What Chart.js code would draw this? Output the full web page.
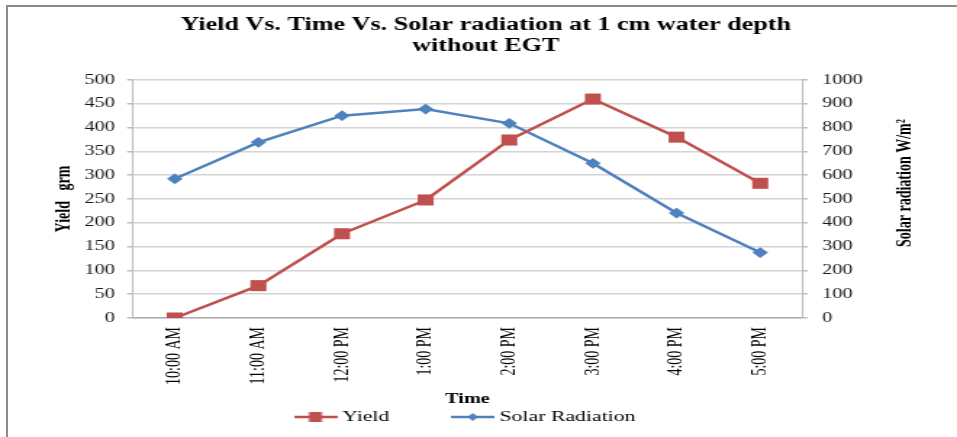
<!DOCTYPE html>
<html><head><meta charset="utf-8">
<script src="https://cdn.jsdelivr.net/npm/chart.js@4/dist/chart.umd.min.js"></script>
<style>
html,body{margin:0;padding:0;background:#fff;}
#wrap{position:relative;width:957px;height:437px;overflow:hidden;}
#stretch{position:absolute;left:0;top:0;width:660px;height:437px;transform:scaleX(1.45);transform-origin:0 0;}
#frame{position:absolute;left:6px;top:5px;width:1000px;height:500px;border-left:2px solid #8c8c8c;border-top:2px solid #8c8c8c;pointer-events:none;}
canvas{display:block;}
</style></head><body>
<div id="wrap"><div id="stretch"><canvas id="c" width="660" height="437"></canvas></div><div id="frame"></div></div>
<script>
// ---- data ----
const categories = ['10:00 AM','11:00 AM','12:00 PM','1:00 PM','2:00 PM','3:00 PM','4:00 PM','5:00 PM'];
const yieldValues = [0, 68, 177, 248, 374, 460, 380, 283];
const solarValues = [585, 738, 850, 878, 818, 650, 441, 275];
const seriesNames = ['Yield', 'Solar Radiation'];
const titleLines = ['Yield Vs. Time Vs. Solar radiation at 1 cm water depth', 'without EGT'];
const xAxisTitle = 'Time';
const yAxisTitle = 'Yield   grm';
const y2AxisTitle = 'Solar radiation W/m\u00B2';

const RED = '#C0504D', BLUE = '#4F81BD';

function mk(w, h, draw) { const c = document.createElement('canvas'); c.width = w; c.height = h; draw(c.getContext('2d'), w, h); return c; }
function legendSample(col, marker) {
  return mk(30, 12, (c, w, h) => {
    c.strokeStyle = col; c.lineWidth = 2.5; c.beginPath(); c.moveTo(0, h/2); c.lineTo(w, h/2); c.stroke();
    c.fillStyle = col;
    if (marker === 'rect') { c.fillRect(w/2 - 4.5, h/2 - 5, 9, 10); }
    else { c.beginPath(); c.moveTo(w/2, h/2 - 4); c.lineTo(w/2 + 3.5, h/2); c.lineTo(w/2, h/2 + 4); c.lineTo(w/2 - 3.5, h/2); c.closePath(); c.fill(); }
  });
}
const legendImages = [legendSample(RED, 'rect'), legendSample(BLUE, 'diamond')];

const serif = '"Liberation Serif", "Times New Roman", serif';

const shiftPlugin = {
  id: 'shift',
  afterLayout(chart) {
    const t = chart.titleBlock; if (t) { t.left = 0; t.right = 670; }
    const lg = chart.legend; if (lg) { lg.top = 363; }
    const yt = chart.scales.yTitleR;
    if (yt) { yt.left = 615.7; yt.right = 640; yt.top = 0; yt.bottom = 366; }
  }
};

new Chart(document.getElementById('c'), {
  type: 'line',
  data: {
    labels: categories,
    datasets: [
      { label: seriesNames[0], data: yieldValues, yAxisID: 'y', borderColor: RED, backgroundColor: RED, borderWidth: 2.5, pointStyle: 'rect', pointRadius: 7.8, pointBorderWidth: 0, tension: 0 },
      { label: seriesNames[1], data: solarValues, yAxisID: 'y2', borderColor: BLUE, backgroundColor: BLUE, borderWidth: 2.5, pointStyle: 'rectRot', pointRadius: 5.4, pointBorderWidth: 0, tension: 0 }
    ]
  },
  options: {
    responsive: false,
    animation: false,
    layout: { padding: 0 },
    plugins: {
      tooltip: { enabled: false },
      title: {
        display: true, text: titleLines, color: '#000',
        font: { family: serif, size: 18, weight: 'bold', lineHeight: 1.17 },
        padding: { top: 14.5, bottom: 23.4 }
      },
      legend: {
        display: true, position: 'bottom', fullSize: false, maxHeight: 28,
        labels: {
          usePointStyle: true, pointStyleWidth: 22, padding: 46.5, color: '#000',
          font: { family: serif, size: 15 },
          generateLabels(chart) {
            const items = Chart.defaults.plugins.legend.labels.generateLabels(chart);
            items.forEach((it, i) => { it.pointStyle = legendImages[i]; });
            return items;
          }
        }
      }
    },
    scales: {
      x: {
        type: 'category', position: 'bottom', offset: true,
        grid: { display: false, drawTicks: false, offset: true },
        border: { display: true, color: '#b0b0b0', width: 1.5 },
        ticks: { minRotation: 90, maxRotation: 90, autoSkip: false, padding: 9, color: '#000', font: { family: serif, size: 14 } },
        title: { display: true, text: xAxisTitle, color: '#000', font: { family: serif, size: 14, weight: 'bold', lineHeight: 1.2 }, padding: { top: 0, bottom: 1.6 } },
        afterFit(s) { s.height = 91; }
      },
      y: {
        position: 'left', min: 0, max: 500,
        ticks: { stepSize: 50, padding: 8.3, color: '#1a1a1a', font: { family: serif, size: 14 } },
        grid: { color: '#d4d4d4', lineWidth: 1.5, tickLength: 4.1, tickColor: '#bdbdbd' },
        border: { display: true, color: '#bdbdbd', width: 1.1 },
        title: { display: true, text: yAxisTitle, color: '#000', font: { family: serif, size: 14, weight: 'bold', lineHeight: 1.2 }, padding: { top: 36.4, bottom: 0 } },
        afterFit(s) { s.width = 91.7; }
      },
      yTitleR: {
        type: 'linear', position: 'left', weight: 5, min: 0, max: 1,
        ticks: { display: false }, grid: { display: false, drawTicks: false }, border: { display: false },
        title: { display: true, text: y2AxisTitle, color: '#000', font: { family: serif, size: 14, weight: 'bold', lineHeight: 1.2 }, padding: { top: 0, bottom: 0 } },
        afterFit(s) { s.width = 0; }
      },
      y2: {
        position: 'right', min: 0, max: 1000,
        ticks: { stepSize: 100, padding: 9.7, color: '#1a1a1a', font: { family: serif, size: 14 }, callback: v => String(v) },
        grid: { drawOnChartArea: false, tickLength: 4.1, tickColor: '#bdbdbd', lineWidth: 1.5 },
        border: { display: true, color: '#bdbdbd', width: 1.1 },
        afterFit(s) { s.width = 106.9; }
      }
    }
  },
  plugins: [shiftPlugin]
});
</script>
</body></html>
